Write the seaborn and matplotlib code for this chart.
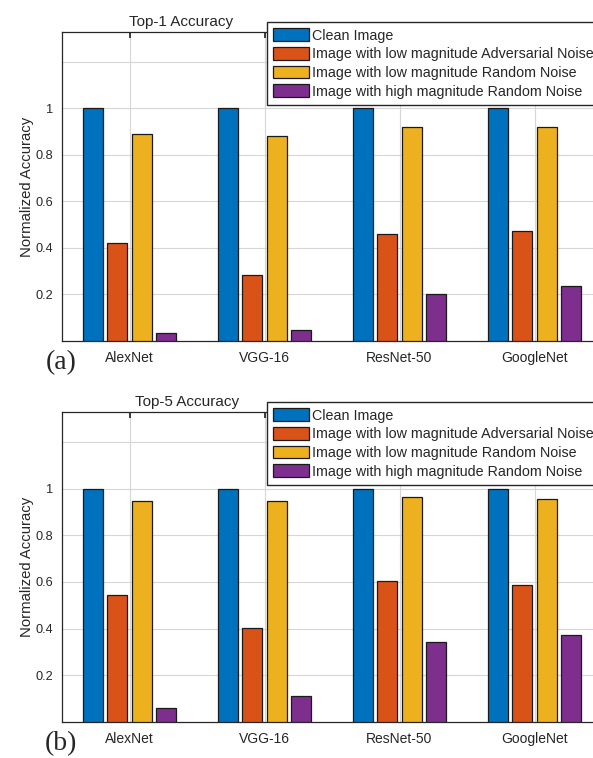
import matplotlib
matplotlib.use("Agg")
import matplotlib.pyplot as plt
from matplotlib.patches import Patch
import pandas as pd
import seaborn as sns

# ---------------------------------------- DATA ----------------------------------------
models = ["AlexNet", "VGG-16", "ResNet-50", "GoogleNet"]
conditions = [
    "Clean Image",
    "Image with low magnitude Adversarial Noise",
    "Image with low magnitude Random Noise",
    "Image with high magnitude Random Noise",
]

# Top-1 (normalized)
top1_clean = [1.0, 1.0, 1.0, 1.0]
top1_adv_low = [0.421, 0.284, 0.460, 0.471]
top1_rand_low = [0.888, 0.882, 0.920, 0.918]
top1_rand_high = [0.033, 0.046, 0.200, 0.238]

# Top-5 (normalized)
top5_clean = [1.0, 1.0, 1.0, 1.0]
top5_adv_low = [0.544, 0.404, 0.604, 0.589]
top5_rand_low = [0.947, 0.947, 0.964, 0.957]
top5_rand_high = [0.061, 0.110, 0.341, 0.374]

ytick_vals = [0.2, 0.4, 0.6, 0.8, 1.0, 1.2]
ytick_labels = ["0.2", "0.4", "0.6", "0.8", "1", ""]

colors = ["#0072BD", "#D95319", "#EDB120", "#7E2F8E"]


def to_long(series_list):
    rows = []
    for cond, vals in zip(conditions, series_list):
        for m, v in zip(models, vals):
            rows.append({"model": m, "condition": cond, "acc": v})
    return pd.DataFrame(rows)


top1 = to_long([top1_clean, top1_adv_low, top1_rand_low, top1_rand_high])
top5 = to_long([top5_clean, top5_adv_low, top5_rand_low, top5_rand_high])

# ---------------------------------------- STYLE ----------------------------------------
sns.set_theme(style="white")
plt.rcParams["font.family"] = ["Liberation Sans", "DejaVu Sans"]

W, H = 593, 758
fig = plt.figure(figsize=(W / 100, H / 100), dpi=100)


def panel(df, top_px, bottom_px, title, title_x, title_y, letter):
    left_px, right_px = 62, 602
    ax = fig.add_axes([left_px / W, 1 - bottom_px / H,
                       (right_px - left_px) / W, (bottom_px - top_px) / H])
    sns.barplot(data=df, x="model", y="acc", hue="condition", palette=colors,
                saturation=1, width=0.725, gap=0.19, edgecolor="#1a1a1a",
                linewidth=0.9, legend=False, ax=ax, zorder=3)
    ax.set_xlim(-0.5, 3.5)
    ax.set_ylim(0, 1.328)
    ax.set_yticks(ytick_vals)
    ax.set_yticklabels(ytick_labels)
    ax.set_xlabel("")
    ax.set_ylabel("Normalized Accuracy", fontsize=10.7, labelpad=1)
    ax.grid(True, color="#d6d6d6", linewidth=0.8)
    ax.set_axisbelow(True)
    ax.tick_params(axis="y", labelsize=9.2, direction="in", length=4, pad=6.5,
                   right=True, color="#262626")
    ax.tick_params(axis="x", labelsize=10, direction="in", length=4, pad=7.5,
                   top=True, color="#262626")
    for s in ax.spines.values():
        s.set_color("#262626")
        s.set_linewidth(0.9)

    fig.text(title_x / W, 1 - title_y / H, title, fontsize=11,
             ha="center", va="center")

    handles = [Patch(facecolor=c, edgecolor="#1a1a1a", linewidth=0.9) for c in colors]
    leg = ax.legend(handles, conditions, loc="upper left",
                    bbox_to_anchor=(267 / W, 1 - (top_px - 10) / H),
                    bbox_transform=fig.transFigure, fontsize=10.3,
                    frameon=True, fancybox=False, framealpha=1,
                    borderpad=0.45, borderaxespad=0, handlelength=2.5,
                    handleheight=1.0, handletextpad=0.2, labelspacing=0.3)
    leg.get_frame().set_edgecolor("#262626")
    leg.get_frame().set_linewidth(1.0)

    fig.text(61 / W, 1 - (bottom_px + 22) / H, letter, fontsize=20,
             family="Liberation Serif", ha="center", va="center")
    return ax


panel(top1, 32, 341, "Top-1 Accuracy", 181, 22, "(a)")
panel(top5, 412, 722, "Top-5 Accuracy", 187, 402, "(b)")

fig.savefig("out.png", dpi=100)
